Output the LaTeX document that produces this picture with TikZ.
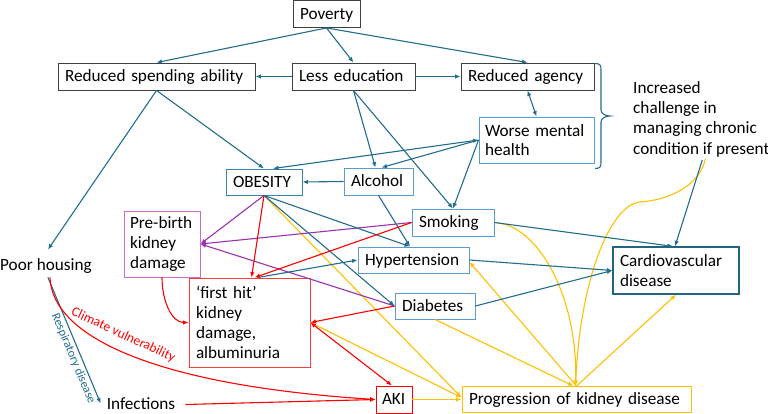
\documentclass[tikz,border=0pt]{standalone}
\usepackage{fontspec}
\setmainfont{Carlito}
\usetikzlibrary{arrows.meta,calc}
\definecolor{cBlue}{RGB}{34,108,142}
\definecolor{cLight}{RGB}{91,155,213}
\definecolor{cObe}{RGB}{60,130,170}
\definecolor{cCvd}{RGB}{35,100,130}
\definecolor{cGray}{RGB}{64,64,64}
\definecolor{cRed}{RGB}{255,0,0}
\definecolor{cFhk}{RGB}{255,60,60}
\definecolor{cPur}{RGB}{155,50,175}
\definecolor{cPbk}{RGB}{200,110,200}
\definecolor{cYel}{RGB}{255,192,0}
\begin{document}
\begin{tikzpicture}[x=1pt,y=-1pt,
  fnt/.style={font=\fontsize{17.2}{19.8}\selectfont},
  box/.style={draw, rectangle, line width=0.9pt, inner xsep=7pt, inner ysep=0pt, align=left, fnt},
  one/.style={text height=11.5pt, text depth=1pt},
  tip/.tip={Latex[length=5.5pt,width=4.5pt]},
  arr/.style={line width=1.1pt, -tip},
  arr2/.style={line width=1.1pt, tip-tip},
  barr/.style={arr, draw=cBlue},
  barrtwo/.style={arr2, draw=cBlue},
  rarr/.style={arr, draw=cRed},
  rarrtwo/.style={arr2, draw=cRed},
  parr/.style={arr, draw=cPur},
  yarr/.style={arr, draw=cYel}]
\useasboundingbox (0,0) rectangle (768,414);
% nodes
\node[box,one,draw=cGray,minimum width=67pt,minimum height=27pt,text width=53pt] (pov) at (326.5,14) {Poverty};
\node[box,one,draw=cGray,minimum width=197pt,minimum height=27pt,text width=183pt] (rsa) at (156.5,76.5) {Reduced spending ability};
\node[box,one,draw=cGray,minimum width=123pt,minimum height=27pt,text width=109pt] (led) at (353.5,76.5) {Less education};
\node[box,one,draw=cGray,minimum width=133pt,minimum height=27pt,text width=119pt] (rag) at (527.5,76.5) {Reduced agency};
\node[box,draw=cLight,inner xsep=6pt,minimum width=115pt,minimum height=46pt,text width=103pt] (wmh) at (536.5,140) {\mbox{Worse mental}\\health};
\node[box,one,draw=cObe,minimum width=76pt,minimum height=26pt,text width=62pt] (obe) at (264,182) {OBESITY};
\node[box,one,draw=cLight,minimum width=69pt,minimum height=27pt,text width=55pt] (alc) at (378.5,181.5) {Alcohol};
\node[box,one,draw=cLight,minimum width=82pt,minimum height=27pt,text width=68pt] (smk) at (453,222.5) {Smoking};
\node[box,draw=cPbk,inner xsep=6pt,minimum width=76pt,minimum height=66pt,text width=64pt] (pbk) at (162,244) {Pre-birth\\kidney\\damage};
\node[box,one,draw=cLight,minimum width=111pt,minimum height=26pt,text width=97pt] (hyp) at (413.5,260) {Hypertension};
\node[box,draw=cCvd,line width=1.3pt,minimum width=126pt,minimum height=47pt,text width=112pt] (cvd) at (676,270.5) {Cardiovascular\\disease};
\node[box,draw=cFhk,minimum width=121pt,minimum height=89pt,text width=107pt] (fhk) at (249.5,322.5) {‘first hit’\\kidney\\damage,\\albuminuria};
\node[box,one,draw=cLight,minimum width=80pt,minimum height=26pt,text width=66pt] (dia) at (435,306) {Diabetes};
\node[box,one,draw=cRed,inner xsep=6pt,minimum width=36pt,minimum height=27pt,text width=24pt] (aki) at (394,399.5) {AKI};
\node[box,one,draw=cYel,minimum width=229pt,minimum height=26pt,text width=215pt] (prg) at (576.5,399.5) {Progression of kidney disease};
\node[fnt,one,inner sep=0pt,anchor=west] (hous) at (0,265) {Poor housing};
\node[fnt,one,inner sep=0pt] (inf) at (141,404.5) {Infections};
\node[font=\fontsize{17.2}{20.3}\selectfont,inner sep=0pt,anchor=north west,align=left] (chal) at (633,81) {Increased\\challenge in\\managing chronic\\condition if present};
\coordinate (cm) at (640,202);
% bracket
\draw[cBlue,line width=1.1pt] (595,63.5) .. controls (600,63.5) and (601,65) .. (601,70) -- (601,110)
  .. controls (601,114) and (606,116) .. (610,116) .. controls (606,116) and (601,118) .. (601,122)
  -- (601,162) .. controls (601,167) and (600,168.5) .. (595,168.5);
% yellow
\draw[yarr] (obe.south) -- ($(prg.west)+(0,-2)$);
\draw[yarr] (fhk.east) -- ($(prg.west)+(0,-2)$);
\draw[yarr] (aki.east) -- (prg.west);
\draw[yarr] (dia.south) -- ($(prg.north)+(-3,0)$);
\draw[yarr] (prg.north) -- ($(hyp.east)+(0,2)$);
\draw[yarr] (prg.north) -- (cvd.south);
\draw[yarr] (smk.east) .. controls (540,225) and (578,300) .. ($(prg.north)+(-1,0)$);
\draw[yarr] ($(chal.south)+(4,2)$) .. controls (700,185) and (670,200) .. (cm) .. controls (610,205) and (580,280) .. ($(prg.north)+(-1,0)$);
% purple
\draw[parr] (obe.south) -- (pbk.east);
\draw[parr] (smk.west) -- (pbk.east);
\draw[parr] (dia.west) -- (pbk.east);
% blue
\draw[barr] (pov.south) -- (rsa.north);
\draw[barr] (pov.south) -- (led.north);
\draw[barr] (pov.south) -- (rag.north);
\draw[barr] (led.west) -- (rsa.east);
\draw[barr] (led.east) -- (rag.west);
\draw[barr] (rsa.south) -- ($(hous.north)+(2,-9)$);
\draw[barr] (rsa.south) -- (obe.north);
\draw[barr] (led.south) -- ($(alc.north)+(-3,0)$);
\draw[barr] (led.south) -- (smk.north);
\draw[barrtwo] (rag.south) -- (wmh.north);
\draw[barrtwo] (wmh.west) -- ($(obe.north)+(9,0)$);
\draw[barr] (wmh.west) -- ($(alc.north)+(3,0)$);
\draw[barr] (wmh.west) -- (smk.north);
\draw[barr] (alc.west) -- (obe.east);
\draw[barr] (alc.south) -- ($(hyp.north)+(-3.5,0)$);
\draw[barr] (obe.south) -- ($(hyp.north)+(-3.5,0)$);
\draw[barr] (obe.south) -- (dia.west);
\draw[barr] ($(fhk.north)+(8,0)$) -- (hyp.west);
\draw[barr] (smk.east) -- ($(cvd.north)+(-3,0)$);
\draw[barr] ($(chal.south)+(1,3)$) -- ($(cvd.north)+(-1,0)$);
\draw[barr] (hyp.east) -- (cvd.west);
\draw[barr] (dia.east) -- (cvd.west);
\draw[barr] ($(hous.south)+(2,6)$) -- ($(inf.west)+(-6,-1)$)
  node[pos=0.62,sloped,below,inner sep=2pt,text=cBlue,font=\fontsize{12.3}{14}\selectfont] {Respiratory disease};
% red
\draw[rarr] (obe.south) -- ($(fhk.north)+(2,0)$);
\draw[rarr] (smk.west) -- ($(fhk.north)+(5,0)$);
\draw[rarr] (dia.west) -- (fhk.east);
\draw[rarrtwo] (fhk.east) -- ($(aki.north)+(-2,0)$);
\draw[rarr] (pbk.south) .. controls +(0,23) and +(-17,0) .. (fhk.west);
\draw[rarr] ($(hous.south)+(4,6)$) .. controls (52,335) and (150,385) .. (aki.west)
  node[pos=0.46,sloped,above=6pt,text=cRed,font=\fontsize{13.5}{15}\selectfont] {Climate vulnerability};
\draw[rarr] ($(inf.east)+(10,0)$) -- (aki.west);
\end{tikzpicture}
\end{document}
